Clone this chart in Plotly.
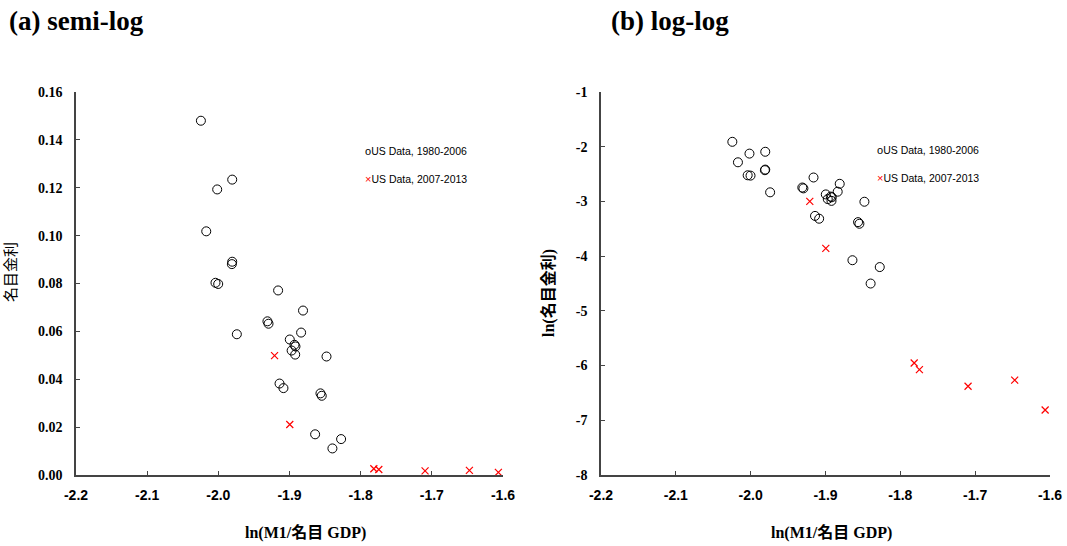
import numpy as np
import plotly.graph_objects as go

# US data, 1980-2006: ln(M1 / nominal GDP) and nominal interest rate
x_hist = [-2.0245, -1.9805, -2.0016, -2.0170, -1.9805, -1.9810, -2.0040, -2.0002,
          -1.9160, -1.8810, -1.9310, -1.9295, -1.9740, -1.8837, -1.8996, -1.8930,
          -1.8916, -1.8970, -1.8920, -1.8480, -1.9140, -1.9085, -1.8565, -1.8547,
          -1.8640, -1.8275, -1.8397]
r_hist = [0.1480, 0.1234, 0.1193, 0.1018, 0.0891, 0.0881, 0.0803, 0.0798,
          0.0771, 0.0687, 0.0642, 0.0632, 0.0588, 0.0595, 0.0566, 0.0544,
          0.0537, 0.0520, 0.0503, 0.0495, 0.0382, 0.0363, 0.0341, 0.0331,
          0.0170, 0.0150, 0.0111]

# US data, 2007-2013
x_recent = [-1.9210, -1.8996, -1.7815, -1.7745, -1.7095, -1.6472, -1.6065]
r_recent = [0.0499, 0.0211, 0.0026, 0.0023, 0.0017, 0.0019, 0.0011]

label_hist = "US Data, 1980-2006"
label_recent = "US Data, 2007-2013"

x_ticks = [-2.2, -2.1, -2.0, -1.9, -1.8, -1.7, -1.6]
x_ticktext = ["-2.2", "-2.1", "-2.0", "-1.9", "-1.8", "-1.7", "-1.6"]
y_ticks_a = [0.00, 0.02, 0.04, 0.06, 0.08, 0.10, 0.12, 0.14, 0.16]
y_ticktext_a = ["0.00", "0.02", "0.04", "0.06", "0.08", "0.10", "0.12", "0.14", "0.16"]
y_ticks_b = [-8, -7, -6, -5, -4, -3, -2, -1]
y_ticktext_b = ["-8", "-7", "-6", "-5", "-4", "-3", "-2", "-1"]

SERIF = "Liberation Serif, Times New Roman, Noto Sans CJK JP, serif"
SANS = "Liberation Sans, Arial, Noto Sans CJK JP, sans-serif"
AXIS_COLOR = "#444444"
W, H = 1067, 546

circle = dict(symbol="circle-open", size=9, color="black", line=dict(width=1, color="black"))
cross = dict(symbol="x-thin", size=7, color="red", line=dict(width=1.2, color="red"))

fig = go.Figure()

# (a) semi-log panel
fig.add_trace(go.Scatter(x=x_hist, y=r_hist, mode="markers", marker=circle,
                         name=label_hist, xaxis="x", yaxis="y"))
fig.add_trace(go.Scatter(x=x_recent, y=r_recent, mode="markers", marker=cross,
                         name=label_recent, xaxis="x", yaxis="y"))

# (b) log-log panel
fig.add_trace(go.Scatter(x=x_hist, y=np.log(r_hist), mode="markers", marker=circle,
                         name=label_hist, xaxis="x2", yaxis="y2"))
fig.add_trace(go.Scatter(x=x_recent, y=np.log(r_recent), mode="markers", marker=cross,
                         name=label_recent, xaxis="x2", yaxis="y2"))

xaxis_common = dict(
    range=[-2.2, -1.6], tickvals=x_ticks, ticktext=x_ticktext,
    showline=True, linecolor=AXIS_COLOR, linewidth=1.6,
    ticks="inside", ticklen=4, tickcolor=AXIS_COLOR, tickwidth=1,
    showgrid=False, zeroline=False,
    tickfont=dict(family=SANS, size=14, color="black", weight="bold"),
    ticklabelstandoff=6,
)
yaxis_common = dict(
    showline=True, linecolor=AXIS_COLOR, linewidth=1.6,
    ticks="inside", ticklen=4, tickcolor=AXIS_COLOR, tickwidth=1,
    showgrid=False, zeroline=False,
    tickfont=dict(family=SERIF, size=14, color="black", weight="bold"),
    ticklabelstandoff=9,
)

y_dom = [(H - 475) / H, (H - 92) / H]

fig.update_layout(
    width=W, height=H,
    margin=dict(l=0, r=0, t=0, b=0, autoexpand=False),
    paper_bgcolor="white", plot_bgcolor="white",
    showlegend=False,
    xaxis=dict(domain=[76 / W, 503 / W], anchor="y", **xaxis_common),
    yaxis=dict(domain=y_dom, anchor="x", range=[0, 0.16],
               tickvals=y_ticks_a, ticktext=y_ticktext_a, **yaxis_common),
    xaxis2=dict(domain=[601 / W, 1050 / W], anchor="y2", **xaxis_common),
    yaxis2=dict(domain=y_dom, anchor="x2", range=[-8, -1],
                tickvals=y_ticks_b, ticktext=y_ticktext_b, **yaxis_common),
)

# Panel titles, axis titles and legend keys, placed in pixel terms on the paper
key_hist = "<span style='font-size:11px'>o</span>" + label_hist
key_recent = "<span style='font-size:11px;color:red'>×</span>" + label_recent
notes = [
    dict(text="(a) semi-log", px=8, py=21, size=27, family=SERIF, bold=True, angle=0, xa="left"),
    dict(text="(b) log-log", px=610, py=21, size=27, family=SERIF, bold=True, angle=0, xa="left"),
    dict(text="ln(M1/名目 GDP)", px=305, py=533, size=16, family=SERIF, bold=True, angle=0, xa="center"),
    dict(text="ln(M1/名目 GDP)", px=831, py=533, size=16, family=SERIF, bold=True, angle=0, xa="center"),
    dict(text="名目金利", px=10, py=272, size=15, family=SANS, bold=False, angle=-90, xa="center"),
    dict(text="ln(名目金利)", px=548, py=293, size=16, family=SERIF, bold=True, angle=-90, xa="center"),
    dict(text=key_hist, px=364, py=151, size=10.5, family=SANS, bold=False, angle=0, xa="left"),
    dict(text=key_recent, px=364, py=179, size=10.5, family=SANS, bold=False, angle=0, xa="left"),
    dict(text=key_hist, px=876, py=150, size=10.5, family=SANS, bold=False, angle=0, xa="left"),
    dict(text=key_recent, px=876, py=178, size=10.5, family=SANS, bold=False, angle=0, xa="left"),
]
for n in notes:
    fig.add_annotation(
        text=n["text"], x=n["px"] / W, y=1 - n["py"] / H, xref="paper", yref="paper",
        xanchor=n["xa"], yanchor="middle", showarrow=False, textangle=n["angle"],
        borderpad=0,
        font=dict(family=n["family"], size=n["size"], color="black",
                  weight="bold" if n["bold"] else "normal"),
    )

fig.write_html("out.html")
